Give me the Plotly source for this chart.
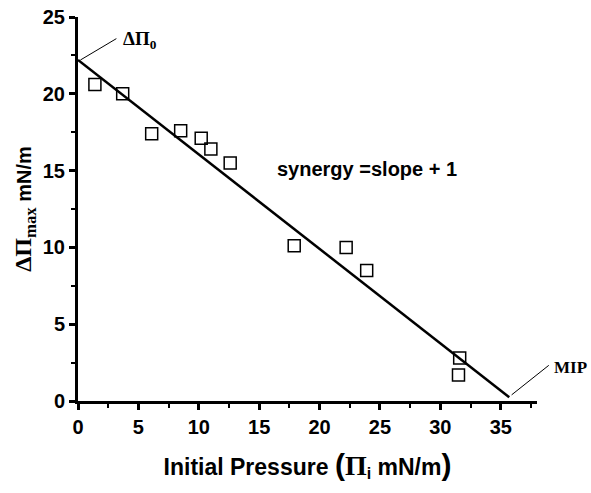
import plotly.graph_objects as go

# data
pi_initial = [1.4, 3.7, 6.1, 8.5, 10.2, 11.0, 12.6, 17.9, 22.2, 23.9, 31.6, 31.5]
delta_pi_max = [20.6, 20.0, 17.4, 17.6, 17.1, 16.4, 15.5, 10.1, 10.0, 8.5, 2.8, 1.7]
fit_x = [0.0, 35.7]
fit_y = [22.2, 0.25]
x_ticks = [0, 5, 10, 15, 20, 25, 30, 35]
y_ticks = [0, 5, 10, 15, 20, 25]

fig = go.Figure()
fig.add_trace(go.Scatter(x=fit_x, y=fit_y, mode="lines",
                         line=dict(color="black", width=2.5), showlegend=False))
fig.add_trace(go.Scatter(x=pi_initial, y=delta_pi_max, mode="markers",
                         marker=dict(symbol="square-open", size=12, color="black",
                                     line=dict(width=1.5, color="black")),
                         showlegend=False))

serif = "Liberation Serif"
sans = "Liberation Sans"

fig.add_annotation(x=0.2, y=22.2, ax=3.3, ay=23.65, xref="x", yref="y", axref="x", ayref="y",
                   text="", showarrow=True, arrowhead=0, arrowwidth=1, arrowcolor="black")
fig.add_annotation(x=3.6, y=23.5, xref="x", yref="y", xanchor="left", yanchor="middle",
                   text="ΔΠ<sub>0</sub>", showarrow=False,
                   font=dict(family=serif, size=19, color="black", weight="bold"))
fig.add_annotation(x=35.9, y=0.4, ax=39.1, ay=2.4, xref="x", yref="y", axref="x", ayref="y",
                   text="", showarrow=True, arrowhead=0, arrowwidth=1, arrowcolor="black")
fig.add_annotation(x=1.034, y=0.088, xref="paper", yref="paper", xanchor="left", yanchor="middle",
                   text="MIP", showarrow=False, borderpad=0,
                   font=dict(family=serif, size=17, color="black", weight="bold"))
fig.add_annotation(x=16.3, y=15.1, xref="x", yref="y", xanchor="left", yanchor="middle",
                   text="synergy =slope + 1", showarrow=False,
                   font=dict(family=sans, size=20, color="black", weight="bold"))

axis_common = dict(showline=True, linecolor="black", linewidth=3, ticks="outside",
                   tickwidth=3, ticklen=6, tickcolor="black", showgrid=False, zeroline=False,
                   automargin=False, ticklabeloverflow="allow",
                   tickfont=dict(family=sans, size=20, color="black", weight="bold"),
                   minor=dict(ticks="outside", ticklen=4, tickwidth=2, tickcolor="black"))

fig.update_xaxes(range=[0, 38], tickvals=x_ticks, **axis_common,
                 title=dict(text="Initial Pressure <span style='font-size:30px'>(</span><span style='font-family:Liberation Serif;font-size:28px'>Π</span><sub>i</sub> mN/m<span style='font-size:30px'>)</span>",
                            font=dict(family=sans, size=23, color="black", weight="bold"),
                            standoff=22))
fig.update_xaxes(minor_dtick=2.5, minor_tick0=0)
fig.update_yaxes(range=[0, 25], tickvals=y_ticks, **axis_common,
                 title=dict(text="<span style='font-family:Liberation Serif;font-size:24px'>ΔΠ<sub>max</sub></span> mN/m",
                            font=dict(family=sans, size=20, color="black", weight="bold"),
                            standoff=6))
fig.update_yaxes(minor_dtick=2.5, minor_tick0=0)

fig.update_layout(width=591, height=493, plot_bgcolor="white", paper_bgcolor="white",
                  margin=dict(l=78, r=54, t=17, b=92))
# remove the default page body margin so the figure fills the window exactly
fig.write_html("out.html", config={"displayModeBar": False},
               post_script="document.body.style.margin='0';")
